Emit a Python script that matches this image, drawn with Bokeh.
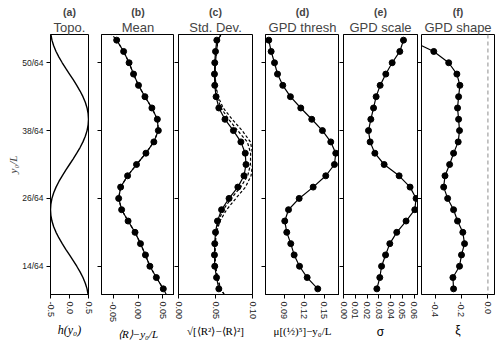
import math
from bokeh.plotting import figure
from bokeh.layouts import row
from bokeh.models import Range1d, FixedTicker, Span, Title, LinearAxis
from bokeh.embed import file_html
from bokeh.resources import INLINE

# ---------------- data (y positions in 64ths of L) ----------------
y_ticks = [14, 26, 38, 50]
y_tick_labels = ["14/64", "26/64", "38/64", "50/64"]

y_pts = [10, 12, 14, 16, 18, 20, 22, 24, 26, 28, 30, 32, 34, 36, 38, 40, 42, 44, 46, 48, 50, 52, 54]

topo_y = list(range(9, 56))
topo_h = [0.490, 0.462, 0.416, 0.354, 0.278, 0.191, 0.098, 0.0, -0.098, -0.191, -0.278, -0.354,
          -0.416, -0.462, -0.490, -0.500, -0.490, -0.462, -0.416, -0.354, -0.278, -0.191, -0.098,
          0.0, 0.098, 0.191, 0.278, 0.354, 0.416, 0.462, 0.490, 0.500, 0.490, 0.462, 0.416, 0.354,
          0.278, 0.191, 0.098, 0.0, -0.098, -0.191, -0.278, -0.354, -0.416, -0.462, -0.490]

mean_vals = [0.051, 0.037, 0.024, 0.015, 0.005, -0.006, -0.020, -0.033, -0.039, -0.035, -0.021, -0.003,
             0.016, 0.032, 0.041, 0.039, 0.028, 0.014, 0.001, -0.009, -0.018, -0.029, -0.043]
mean_theory_y = [9] + y_pts + [55]
mean_theory = [0.057] + mean_vals + [-0.053]

std_vals = [0.0545, 0.0514, 0.0490, 0.0486, 0.0490, 0.0500, 0.0527, 0.0582, 0.0683, 0.0802, 0.0885, 0.0912,
            0.0902, 0.0843, 0.0742, 0.0628, 0.0545, 0.0508, 0.0490, 0.0486, 0.0490, 0.0500, 0.0518]
std_theory_y = [9, 10, 12, 14, 16, 18, 20, 22, 24, 26, 28, 30, 32, 34, 36, 38, 40, 42, 44, 46, 48, 50, 52, 54, 55]
std_theory_a = [0.0618, 0.0570, 0.0525, 0.0500, 0.0492, 0.0494, 0.0508, 0.0540, 0.0605, 0.0712, 0.0840, 0.0935,
                0.0972, 0.0975, 0.0930, 0.0800, 0.0678, 0.0575, 0.0520, 0.0500, 0.0495, 0.0500, 0.0512, 0.0535, 0.0573]
std_theory_b = [0.0618, 0.0570, 0.0525, 0.0500, 0.0492, 0.0496, 0.0515, 0.0560, 0.0650, 0.0775, 0.0905, 0.0980,
                0.1000, 0.1000, 0.0972, 0.0860, 0.0725, 0.0605, 0.0535, 0.0505, 0.0495, 0.0500, 0.0512, 0.0535, 0.0573]

thresh_vals = [0.1404, 0.1245, 0.1130, 0.1050, 0.0999, 0.0939, 0.0909, 0.0965, 0.1125, 0.1335, 0.1524, 0.1654,
               0.1674, 0.1599, 0.1474, 0.1314, 0.1149, 0.0994, 0.0879, 0.0800, 0.0755, 0.0705, 0.0669]

scale_vals = [0.0283, 0.0308, 0.0323, 0.0357, 0.0393, 0.0452, 0.0531, 0.0605, 0.0616, 0.0565, 0.0472, 0.0345,
              0.0266, 0.0226, 0.0212, 0.0232, 0.0255, 0.0277, 0.0311, 0.0359, 0.0413, 0.0478, 0.0509]

shape_vals = [-0.260, -0.265, -0.215, -0.200, -0.177, -0.190, -0.230, -0.260, -0.305, -0.335, -0.325, -0.290,
              -0.260, -0.225, -0.215, -0.222, -0.230, -0.222, -0.212, -0.235, -0.297, -0.410, -0.590]

panel_letters = ["(a)", "(b)", "(c)", "(d)", "(e)", "(f)"]
panel_names = ["Topo.", "Mean", "Std. Dev.", "GPD thresh", "GPD scale", "GPD shape"]
x_labels = ["h(y\u2080)", "\u27e8R\u27e9\u2212y\u2080/L", "\u221a[\u27e8R\u00b2\u27e9\u2212\u27e8R\u27e9\u00b2]",
            "\u03bc[(\u00bd)\u2075]\u2212y\u2080/L", "\u03c3", "\u03be"]

a_ticks, a_tick_labels = [-0.5, 0.0, 0.5], ["-0.5", "0.0", "0.5"]
b_ticks, b_tick_labels = [-0.05, 0.0, 0.05], ["-0.05", "0.00", "0.05"]
c_ticks, c_tick_labels = [0.0, 0.05, 0.1], ["0.00", "0.05", "0.10"]
d_ticks, d_tick_labels = [0.09, 0.12, 0.15], ["0.09", "0.12", "0.15"]
e_ticks, e_tick_labels = [0.0, 0.01, 0.02, 0.03, 0.04, 0.05, 0.06], ["0.00", "0.01", "0.02", "0.03", "0.04", "0.05", "0.06"]
f_ticks, f_tick_labels = [-0.4, -0.2, 0.0], ["-0.4", "-0.2", "0.0"]

# ---------------- layout ----------------
FRAME_H = 260
TOP = 34
BOTTOM = 52
SANS = "Liberation Sans"
SERIF = "Liberation Serif"
YT = [t / 64.0 for t in y_ticks]


def frac(vals):
    return [v / 64.0 for v in vals]


def style_tickonly_yaxis(ax):
    ax.ticker = FixedTicker(ticks=YT)
    ax.major_label_overrides = {t: "" for t in YT}
    ax.major_label_standoff = 0
    ax.major_label_text_font_size = "0px"
    ax.major_tick_out = 4
    ax.major_tick_in = 0
    ax.minor_tick_line_color = None
    ax.axis_line_color = "black"
    ax.major_tick_line_color = "black"


def make_panel(idx, frame_w, left, right, xr, ticks, tick_labels, xlabel_font, xlabel_style, xlabel_size,
               yaxis_mode="ticks"):
    p = figure(width=left + frame_w + right, height=TOP + FRAME_H + BOTTOM,
               x_range=Range1d(*xr), y_range=Range1d(9 / 64.0, 55 / 64.0),
               output_backend="svg", toolbar_location=None, title=None,
               min_border_left=left, min_border_right=right,
               min_border_top=TOP, min_border_bottom=BOTTOM)
    p.grid.visible = False
    p.background_fill_color = "white"
    p.border_fill_color = "white"
    p.outline_line_color = "black"
    p.outline_line_width = 1

    xa = p.xaxis[0]
    xa.ticker = FixedTicker(ticks=ticks)
    xa.major_label_overrides = {t: s for t, s in zip(ticks, tick_labels)}
    xa.major_label_orientation = -math.pi / 2
    xa.major_tick_out = 4
    xa.major_tick_in = 0
    xa.minor_tick_line_color = None
    xa.major_label_standoff = 3
    xa.major_label_text_font = SANS
    xa.major_label_text_font_size = "9px"
    xa.major_label_text_color = "#222222"
    xa.axis_line_color = "black"
    xa.major_tick_line_color = "black"
    xa.axis_label = x_labels[idx]
    xa.axis_label_text_font = xlabel_font
    xa.axis_label_text_font_style = xlabel_style
    xa.axis_label_text_font_size = xlabel_size
    xa.axis_label_text_color = "black"
    xa.axis_label_standoff = 3

    ya = p.yaxis[0]
    if yaxis_mode == "labels":
        ya.ticker = FixedTicker(ticks=YT)
        ya.major_label_overrides = {t: s for t, s in zip(YT, y_tick_labels)}
        ya.major_label_standoff = 3
        ya.major_label_text_font = SANS
        ya.major_label_text_font_size = "8.5px"
        ya.major_label_text_color = "#222222"
        ya.major_tick_out = 4
        ya.major_tick_in = 0
        ya.minor_tick_line_color = None
        ya.axis_line_color = "black"
        ya.axis_label = "y\u2080/L"
        ya.axis_label_text_font = SERIF
        ya.axis_label_text_font_style = "italic"
        ya.axis_label_text_font_size = "11px"
        ya.axis_label_standoff = 0
    elif yaxis_mode == "ticks":
        style_tickonly_yaxis(ya)
    else:
        ya.visible = False

    p.add_layout(Title(text=panel_names[idx], text_font=SANS, text_font_size="13px",
                       text_font_style="normal", align="center", standoff=0, offset=0), "above")
    p.add_layout(Title(text=panel_letters[idx], text_font=SANS, text_font_size="10.5px",
                       text_font_style="bold", align="center", standoff=0, offset=0), "above")
    return p


pa = make_panel(0, 38, 50, 6, (-0.5, 0.5), a_ticks, a_tick_labels, SERIF, "italic", "12px", yaxis_mode="labels")
pa.line(topo_h, frac(topo_y), line_color="black", line_width=1.4)

pb = make_panel(1, 73, 7, 0, (-0.0736, 0.0736), b_ticks, b_tick_labels, SERIF, "italic", "11px")
pb.line(mean_theory, frac(mean_theory_y), line_color="black", line_width=1.2, line_dash="3 2")
pb.line(mean_vals, frac(y_pts), line_color="black", line_width=1.2)
pb.scatter(mean_vals, frac(y_pts), marker="circle", size=6, color="black")

pc = make_panel(2, 74, 4, 6, (0.0, 0.1), c_ticks, c_tick_labels, SERIF, "normal", "11px")
pc.line(std_theory_a, frac(std_theory_y), line_color="black", line_width=1.2, line_dash="3 2")
pc.line(std_theory_b, frac(std_theory_y), line_color="black", line_width=1.2, line_dash="3 2")
pc.line(std_vals, frac(y_pts), line_color="black", line_width=1.2)
pc.scatter(std_vals, frac(y_pts), marker="circle", size=6, color="black")

pd = make_panel(3, 74, 7, 0, (0.062, 0.173), d_ticks, d_tick_labels, SERIF, "normal", "11px")
pd.line(thresh_vals, frac(y_pts), line_color="black", line_width=1.2)
pd.scatter(thresh_vals, frac(y_pts), marker="circle", size=6, color="black")

pe = make_panel(4, 74, 4, 4, (0.0, 0.0628), e_ticks, e_tick_labels, SANS, "normal", "12px")
ra = LinearAxis()
style_tickonly_yaxis(ra)
pe.add_layout(ra, "right")
pe.line(scale_vals, frac(y_pts), line_color="black", line_width=1.2)
pe.scatter(scale_vals, frac(y_pts), marker="circle", size=6, color="black")

pf = make_panel(5, 73, 0, 5, (-0.503, 0.05), f_ticks, f_tick_labels, SANS, "normal", "12px", yaxis_mode="none")
pf.add_layout(Span(location=0.0, dimension="height", line_color="#a8a8a8", line_width=1.3, line_dash="4 3"))
pf.line(shape_vals, frac(y_pts), line_color="black", line_width=1.2)
pf.scatter(shape_vals, frac(y_pts), marker="circle", size=6, color="black")

layout = row(pa, pb, pc, pd, pe, pf, spacing=0)

open("out.html", "w").write(file_html(layout, INLINE))
